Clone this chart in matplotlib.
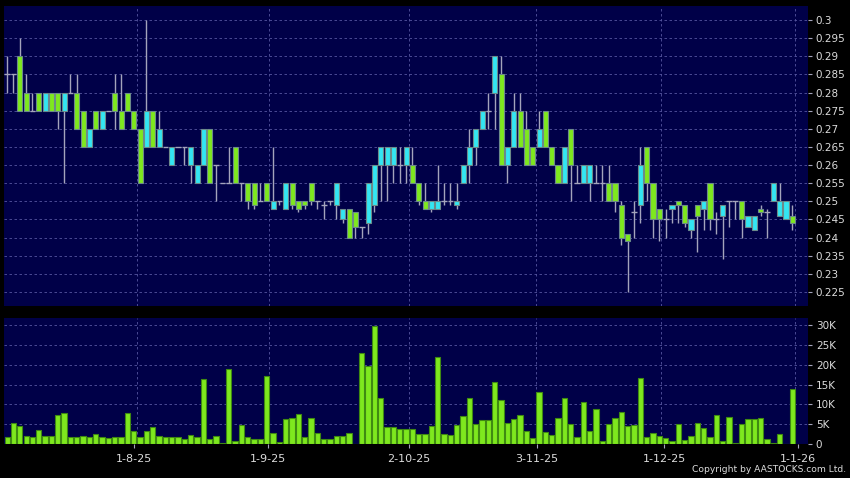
import numpy as np
import matplotlib.pyplot as plt

# ---- data (daily OHLC, volume in thousands) ----
opens = [0.285, 0.285, 0.29, 0.28, 0.275, 0.28, 0.275, 0.28, 0.28, 0.275,
         0.28, 0.28, 0.275, 0.265, 0.275, 0.27, 0.275, 0.28, 0.275, 0.28,
         0.275, 0.27, 0.265, 0.275, 0.265, 0.265, 0.26, 0.265, 0.265, 0.26,
         0.255, 0.26, 0.27, 0.26, 0.255, 0.255, 0.265, 0.255, 0.255, 0.255,
         0.25, 0.255, 0.248, 0.25, 0.248, 0.255, 0.25, 0.25, 0.255, 0.25,
         0.249, 0.25, 0.249, 0.245, 0.248, 0.247, 0.243, 0.244, 0.249, 0.26,
         0.26, 0.26, 0.26, 0.26, 0.26, 0.255, 0.25, 0.248, 0.248, 0.25,
         0.25, 0.249, 0.255, 0.26, 0.265, 0.27, 0.275, 0.28, 0.285, 0.26,
         0.265, 0.275, 0.27, 0.265, 0.265, 0.275, 0.265, 0.26, 0.255, 0.27,
         0.255, 0.255, 0.255, 0.255, 0.255, 0.255, 0.255, 0.249, 0.241, 0.247,
         0.249, 0.265, 0.255, 0.248, 0.245, 0.248, 0.25, 0.249, 0.242, 0.249,
         0.248, 0.255, 0.245, 0.246, 0.25, 0.25, 0.25, 0.243, 0.242, 0.248,
         0.247, 0.25, 0.246, 0.245, 0.246]
highs = [0.29, 0.285, 0.295, 0.285, 0.28, 0.28, 0.28, 0.28, 0.28, 0.28,
         0.285, 0.285, 0.275, 0.27, 0.275, 0.275, 0.275, 0.285, 0.285, 0.28,
         0.275, 0.27, 0.3, 0.275, 0.275, 0.265, 0.265, 0.265, 0.265, 0.265,
         0.26, 0.27, 0.27, 0.26, 0.255, 0.265, 0.265, 0.255, 0.255, 0.255,
         0.255, 0.255, 0.265, 0.25, 0.255, 0.255, 0.25, 0.25, 0.255, 0.25,
         0.25, 0.25, 0.255, 0.248, 0.248, 0.247, 0.243, 0.255, 0.26, 0.265,
         0.265, 0.265, 0.265, 0.265, 0.265, 0.255, 0.255, 0.25, 0.26, 0.255,
         0.255, 0.255, 0.26, 0.27, 0.27, 0.275, 0.28, 0.29, 0.29, 0.265,
         0.28, 0.28, 0.275, 0.265, 0.275, 0.275, 0.265, 0.26, 0.265, 0.27,
         0.26, 0.26, 0.26, 0.26, 0.26, 0.26, 0.255, 0.25, 0.241, 0.25,
         0.265, 0.265, 0.255, 0.248, 0.248, 0.249, 0.25, 0.249, 0.245, 0.249,
         0.25, 0.255, 0.247, 0.249, 0.25, 0.25, 0.25, 0.246, 0.246, 0.249,
         0.248, 0.255, 0.255, 0.25, 0.249]
lows = [0.28, 0.28, 0.275, 0.275, 0.275, 0.275, 0.275, 0.275, 0.27, 0.255,
        0.28, 0.27, 0.265, 0.265, 0.27, 0.27, 0.275, 0.27, 0.27, 0.275,
        0.27, 0.255, 0.265, 0.265, 0.265, 0.265, 0.26, 0.265, 0.26, 0.255,
        0.255, 0.26, 0.255, 0.25, 0.255, 0.255, 0.255, 0.25, 0.248, 0.248,
        0.25, 0.25, 0.248, 0.249, 0.248, 0.248, 0.247, 0.248, 0.249, 0.248,
        0.245, 0.249, 0.245, 0.244, 0.24, 0.24, 0.24, 0.241, 0.247, 0.25,
        0.25, 0.255, 0.255, 0.255, 0.255, 0.249, 0.248, 0.247, 0.248, 0.249,
        0.249, 0.248, 0.255, 0.255, 0.26, 0.27, 0.27, 0.27, 0.26, 0.255,
        0.265, 0.265, 0.26, 0.26, 0.265, 0.265, 0.26, 0.255, 0.255, 0.25,
        0.255, 0.255, 0.25, 0.255, 0.25, 0.25, 0.247, 0.238, 0.225, 0.24,
        0.244, 0.25, 0.24, 0.239, 0.24, 0.244, 0.244, 0.243, 0.24, 0.236,
        0.242, 0.242, 0.241, 0.234, 0.243, 0.245, 0.24, 0.243, 0.242, 0.246,
        0.24, 0.25, 0.246, 0.245, 0.242]
closes = [0.285, 0.285, 0.275, 0.275, 0.275, 0.275, 0.28, 0.275, 0.275, 0.28,
          0.28, 0.27, 0.265, 0.27, 0.27, 0.275, 0.275, 0.275, 0.27, 0.275,
          0.27, 0.255, 0.275, 0.265, 0.27, 0.265, 0.265, 0.265, 0.265, 0.265,
          0.26, 0.27, 0.255, 0.26, 0.255, 0.255, 0.255, 0.255, 0.25, 0.249,
          0.25, 0.25, 0.25, 0.25, 0.255, 0.249, 0.248, 0.249, 0.25, 0.25,
          0.249, 0.25, 0.255, 0.248, 0.24, 0.243, 0.243, 0.255, 0.26, 0.265,
          0.265, 0.265, 0.26, 0.265, 0.255, 0.25, 0.248, 0.25, 0.25, 0.25,
          0.25, 0.25, 0.26, 0.265, 0.27, 0.275, 0.275, 0.29, 0.26, 0.265,
          0.275, 0.265, 0.26, 0.26, 0.27, 0.265, 0.26, 0.255, 0.265, 0.26,
          0.255, 0.26, 0.26, 0.255, 0.255, 0.25, 0.25, 0.24, 0.239, 0.247,
          0.26, 0.255, 0.245, 0.245, 0.245, 0.249, 0.249, 0.244, 0.245, 0.246,
          0.25, 0.245, 0.245, 0.249, 0.25, 0.25, 0.245, 0.246, 0.246, 0.247,
          0.247, 0.255, 0.25, 0.25, 0.244]
volumes = [1.8, 5.2, 4.6, 2.0, 1.8, 3.6, 1.9, 1.9, 7.2, 7.9,
           1.8, 1.7, 2.0, 1.7, 2.5, 1.8, 1.6, 1.8, 1.7, 7.8,
           3.2, 1.8, 3.3, 4.3, 1.9, 1.8, 1.8, 1.8, 1.3, 2.3,
           1.7, 16.4, 1.2, 2.1, 0.3, 18.9, 0.8, 4.9, 1.7, 1.3,
           1.2, 17.1, 2.8, 0.6, 6.4, 6.6, 7.5, 1.7, 6.6, 2.7,
           1.3, 1.3, 2.1, 2.1, 2.8, 0.1, 23.0, 19.6, 29.8, 11.6,
           4.4, 4.4, 3.9, 3.7, 3.9, 2.5, 2.4, 4.5, 22.0, 2.6,
           2.2, 4.8, 7.0, 11.5, 5.1, 6.1, 6.0, 15.6, 11.2, 5.4,
           6.2, 7.2, 3.4, 1.6, 13.1, 3.0, 2.2, 6.5, 11.5, 5.1,
           1.7, 10.5, 3.4, 8.8, 0.8, 5.1, 6.5, 8.0, 4.5, 4.9,
           16.6, 1.8, 2.9, 2.1, 1.5, 0.8, 5.0, 1.0, 1.9, 5.4,
           4.0, 1.7, 7.4, 0.8, 6.7, 0.3, 5.0, 6.4, 6.2, 6.6,
           1.2, 0.3, 2.6, 0.0, 14.0]

price_ticks = [0.225, 0.23, 0.235, 0.24, 0.245, 0.25, 0.255, 0.26, 0.265,
               0.27, 0.275, 0.28, 0.285, 0.29, 0.295, 0.3]
vol_ticks = [0, 5, 10, 15, 20, 25, 30]
vol_labels = ['0', '5K', '10K', '15K', '20K', '25K', '30K']
date_labels = ['1-8-25', '1-9-25', '2-10-25', '3-11-25', '1-12-25', '1-1-26']
date_pos = [20.1, 41.25, 63.4, 83.6, 103.8, 124.9]
vgrid_pos = [20.5, 41.4, 63.4, 83.5, 103.3, 124.4]

# ---- style ----
BG = '#000048'
GRID = '#5656a0'
WICK = '#a4a4bc'
UP = '#33e6f2'
DOWN = '#7ee81e'
EDGE = '#6c8a8a'
TXT = '#dcdcdc'

W, H = 850, 478
fig = plt.figure(figsize=(W/100, H/100), dpi=100, facecolor='black')

def px_axes(l, t, r, b):
    a = fig.add_axes([l/W, 1-b/H, (r-l)/W, (b-t)/H])
    a.set_facecolor(BG)
    for s in a.spines.values():
        s.set_visible(False)
    return a

ax = px_axes(4, 6, 807.5, 306)
axv = px_axes(4, 318, 807.5, 444)

o = np.array(opens); h = np.array(highs); l = np.array(lows); c = np.array(closes)
x = np.arange(len(o))
up = c > o
dn = c < o
flat = c == o

ax.vlines(x, l, h, color=WICK, lw=1, zorder=2)
ax.bar(x[up], (c-o)[up], bottom=o[up], width=0.8, color=UP,
       edgecolor=EDGE, lw=0.8, zorder=3)
ax.bar(x[dn], (o-c)[dn], bottom=c[dn], width=0.8, color=DOWN,
       edgecolor=EDGE, lw=0.8, zorder=3)
ax.hlines(c[flat], x[flat]-0.45, x[flat]+0.45, color=WICK, lw=1, zorder=3)

axv.bar(x, volumes, width=0.84, color=DOWN, edgecolor='#3f8a12', lw=0.8, zorder=3)

xlim = (-0.5, 126.4)
for a in (ax, axv):
    a.set_xlim(*xlim)
    a.yaxis.tick_right()
    a.tick_params(axis='y', colors=WICK, labelcolor=TXT, labelsize=7.5,
                  length=3, width=0.8, pad=3)
    for gx in vgrid_pos:
        a.axvline(gx, color=GRID, lw=0.6, ls=(0, (3, 3)), zorder=1)

ax.set_ylim(0.22114, 0.30386)
ax.set_yticks(price_ticks)
ax.set_yticklabels(['%g' % t for t in price_ticks])
ax.set_xticks([])
for t in price_ticks:
    ax.axhline(t, color=GRID, lw=0.6, ls=(0, (3, 3)), zorder=1)

axv.set_ylim(0, 31.8)
axv.set_yticks(vol_ticks)
axv.set_yticklabels(vol_labels)
for t in vol_ticks[1:]:
    axv.axhline(t, color=GRID, lw=0.6, ls=(0, (3, 3)), zorder=1)
axv.set_xticks(date_pos)
axv.set_xticklabels(date_labels)
axv.tick_params(axis='x', colors=WICK, labelcolor=TXT, labelsize=8,
                length=3, width=0.8, pad=4)

fig.text(846/W, 1-470/H, 'Copyright by AASTOCKS.com Ltd.', ha='right',
         va='center', color=TXT, fontsize=6.6)

fig.savefig('out.png', dpi=100, facecolor='black')
